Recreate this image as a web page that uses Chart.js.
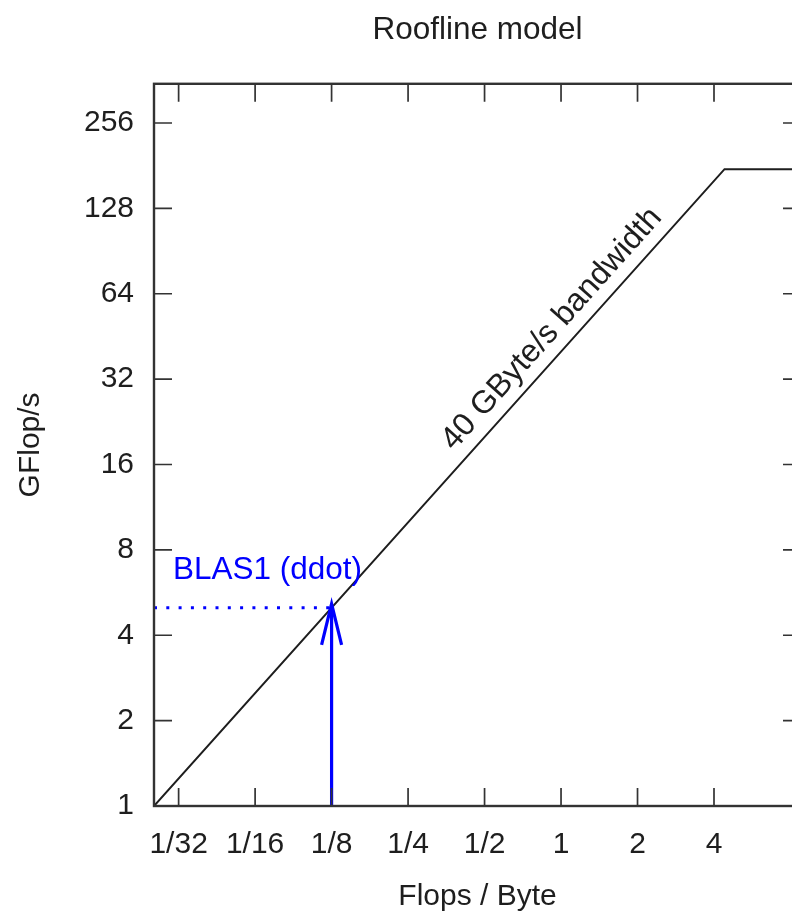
<!DOCTYPE html>
<html>
<head>
<meta charset="utf-8">
<script src="https://cdn.jsdelivr.net/npm/chart.js@4"></script>
<style>
  body { margin: 0; background: #fff; }
  #wrap { width: 792px; height: 917px; overflow: hidden; }
</style>
</head>
<body>
<div id="wrap"><canvas id="roofline" width="820" height="917"></canvas></div>
<script>
// tick positions and labels
const xTicks = [1/32, 1/16, 1/8, 1/4, 1/2, 1, 2, 4];
const xTickLabels = ['1/32', '1/16', '1/8', '1/4', '1/2', '1', '2', '4'];
const yTicks = [1, 2, 4, 8, 16, 32, 64, 128, 256];

// roofline: 40 GB/s bandwidth up to 176 GFlop/s peak
const roofX = [0.025, 4.4, 8.8];
const roofY = [1, 176, 176];

// BLAS1 ddot: intensity 1/8 -> 5 GFlop/s
const ddotX = [0.025, 0.125];
const ddotY = [5, 5];
const arrowX = [0.125, 0.125];
const arrowY = [1, 5];

const toPts = (xs, ys) => xs.map((x, i) => ({ x: x, y: ys[i] }));

const FONT = 'Liberation Sans, Arial, Helvetica, sans-serif';
const INK = '#1e1e1e';
const BLUE = '#0000ff';

Chart.defaults.font.family = FONT;
Chart.defaults.color = INK;

// gnuplot style frame with inward ticks on all four sides
const framePlugin = {
  id: 'frame',
  afterDatasetsDraw(chart) {
    const { ctx, chartArea: a, scales } = chart;
    const len = 18;
    ctx.save();
    ctx.strokeStyle = '#333';
    ctx.lineWidth = 1.7;
    ctx.beginPath();
    xTicks.forEach(v => {
      const px = scales.x.getPixelForValue(v);
      ctx.moveTo(px, a.bottom); ctx.lineTo(px, a.bottom - len);
      ctx.moveTo(px, a.top); ctx.lineTo(px, a.top + len);
    });
    yTicks.forEach(v => {
      const py = scales.y.getPixelForValue(v);
      ctx.moveTo(a.left, py); ctx.lineTo(a.left + len, py);
      ctx.moveTo(a.right, py); ctx.lineTo(a.right - len, py);
    });
    ctx.stroke();
    ctx.lineWidth = 2.4;
    ctx.strokeRect(a.left, a.top, a.right - a.left, a.bottom - a.top);
    ctx.restore();
  }
};

// arrow head + text labels
const notesPlugin = {
  id: 'notes',
  afterDatasetsDraw(chart) {
    const { ctx, scales } = chart;
    const sx = scales.x, sy = scales.y;
    ctx.save();

    // open arrow head at the top of the ddot arrow
    const tx = sx.getPixelForValue(arrowX[1]);
    const ty = sy.getPixelForValue(arrowY[1]) - 4;
    ctx.strokeStyle = BLUE;
    ctx.lineWidth = 3.2;
    ctx.beginPath();
    ctx.moveTo(tx - 10, ty + 41);
    ctx.lineTo(tx, ty);
    ctx.lineTo(tx + 10, ty + 41);
    ctx.stroke();

    // BLAS1 label
    ctx.fillStyle = BLUE;
    ctx.font = '31.5px ' + FONT;
    ctx.textAlign = 'left';
    ctx.textBaseline = 'middle';
    ctx.fillText('BLAS1 (ddot)', sx.getPixelForValue(ddotX[0]) + 19, sy.getPixelForValue(ddotY[0]) - 37);

    // bandwidth label along the slope
    const x0 = sx.getPixelForValue(roofX[0]), y0 = sy.getPixelForValue(roofY[0]);
    const x1 = sx.getPixelForValue(roofX[1]), y1 = sy.getPixelForValue(roofY[1]);
    const ang = Math.atan2(y1 - y0, x1 - x0);
    const t = 0.726, off = 22;
    const cx = x0 + (x1 - x0) * t + Math.sin(ang) * off;
    const cy = y0 + (y1 - y0) * t - Math.cos(ang) * off;
    ctx.translate(cx, cy);
    ctx.rotate(ang);
    ctx.font = '32px ' + FONT;
    ctx.fillStyle = INK;
    ctx.textAlign = 'center';
    ctx.fillText('40 GByte/s bandwidth', 0, 0);
    ctx.restore();
  }
};

new Chart(document.getElementById('roofline').getContext('2d'), {
  type: 'scatter',
  data: {
    datasets: [
      {
        data: toPts(roofX, roofY),
        showLine: true,
        borderColor: INK,
        borderWidth: 2,
        pointRadius: 0
      },
      {
        data: toPts(ddotX, ddotY),
        showLine: true,
        borderColor: BLUE,
        borderWidth: 3,
        borderDash: [3, 9.3],
        pointRadius: 0
      },
      {
        data: toPts(arrowX, arrowY),
        showLine: true,
        borderColor: BLUE,
        borderWidth: 3.2,
        pointRadius: 0
      }
    ]
  },
  options: {
    responsive: false,
    animation: false,
    layout: { padding: { left: 0, right: 19, top: 0, bottom: 0 } },
    plugins: {
      legend: { display: false },
      tooltip: { enabled: false },
      title: {
        display: true,
        text: 'Roofline model',
        fullSize: false,
        color: INK,
        font: { size: 31.5, weight: 'normal', lineHeight: 1.2 },
        padding: { top: 11, bottom: 35 }
      }
    },
    scales: {
      x: {
        type: 'logarithmic',
        bounds: 'data',
        min: 0.025,
        max: 8.8,
        afterBuildTicks: s => { s.ticks = xTicks.map(v => ({ value: v })); },
        afterFit: s => { s.height = 111; },
        grid: { display: false, drawTicks: false },
        border: { display: false },
        ticks: {
          autoSkip: false,
          maxRotation: 0,
          padding: 21,
          color: INK,
          font: { size: 30 },
          callback: (v, i) => xTickLabels[i]
        },
        title: {
          display: true,
          text: 'Flops / Byte',
          color: INK,
          font: { size: 30, lineHeight: 1.2 },
          padding: { top: 0, bottom: 2 }
        }
      },
      y: {
        type: 'logarithmic',
        bounds: 'data',
        min: 1,
        max: 352,
        afterBuildTicks: s => { s.ticks = yTicks.map(v => ({ value: v })); },
        afterFit: s => { s.width = 154; },
        grid: { display: false, drawTicks: false },
        border: { display: false },
        ticks: {
          autoSkip: false,
          padding: 20,
          color: INK,
          font: { size: 30 },
          callback: (v, i) => String(yTicks[i])
        },
        title: {
          display: true,
          text: 'GFlop/s',
          color: INK,
          font: { size: 30, lineHeight: 1.2 },
          padding: { top: 13, bottom: 0 }
        }
      }
    }
  },
  plugins: [framePlugin, notesPlugin]
});
</script>
</body>
</html>
